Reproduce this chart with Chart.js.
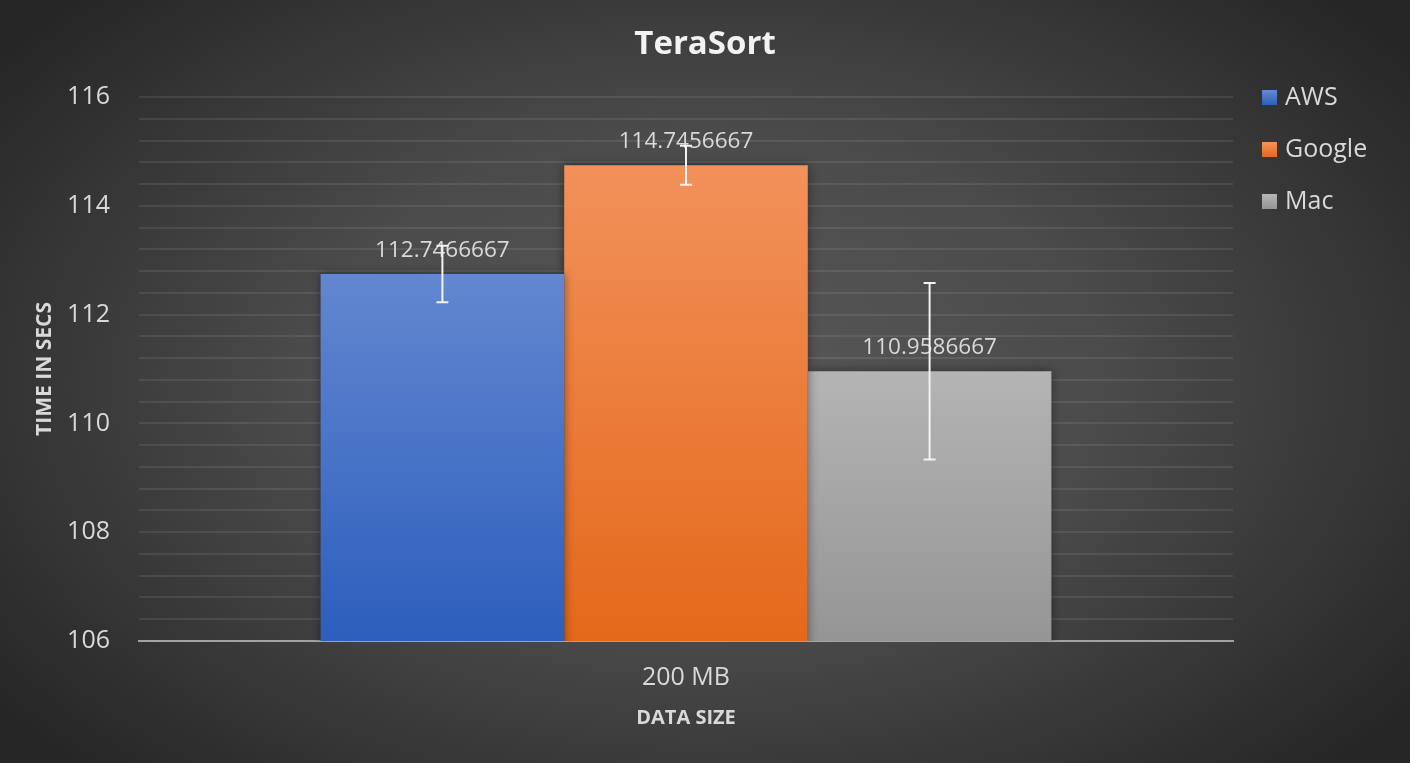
<!DOCTYPE html>
<html><head><meta charset="utf-8">
<script src="https://cdn.jsdelivr.net/npm/chart.js@4.4.1/dist/chart.umd.min.js"></script>
<style>html,body{margin:0;padding:0;background:#262626;overflow:hidden}#wrap{width:1410px;height:763px}</style>
</head><body><div id="wrap"><canvas id="c" width="1410" height="763"></canvas></div>
<script>
const categories = ['200 MB'];
const seriesNames = ['AWS', 'Google', 'Mac'];
const awsValues = [112.7466667];
const googleValues = [114.7456667];
const macValues = [110.9586667];
const awsErrors = [0.52];
const googleErrors = [0.36];
const macErrors = [1.62];
const yTickLabels = [106, 108, 110, 112, 114, 116];
const chartTitle = 'TeraSort';
const yTitle = 'TIME IN SECS';
const xTitle = 'DATA SIZE';

const topColors = ['#6387d0', '#f2915b', '#b4b4b4'];
const bottomColors = ['#2c5ebc', '#e4681a', '#959595'];
const FONT = "'Open Sans', 'Noto Sans', sans-serif";
const TXT = '#d9d9d9';

const valueSets = [awsValues, googleValues, macValues];
const errorSets = [awsErrors, googleErrors, macErrors];

function barGradient(i) {
  return function (ctx) {
    const chart = ctx.chart;
    const area = chart.chartArea;
    if (!area || ctx.type !== 'data') return topColors[i];
    const v = ctx.dataset.data[ctx.dataIndex];
    const yTop = chart.scales.y.getPixelForValue(v);
    const g = chart.ctx.createLinearGradient(0, yTop, 0, area.bottom);
    g.addColorStop(0, topColors[i]);
    g.addColorStop(1, bottomColors[i]);
    return g;
  };
}

const datasets = seriesNames.map((name, i) => ({
  label: name,
  data: valueSets[i],
  errors: errorSets[i],
  backgroundColor: barGradient(i),
  borderWidth: 0,
  barPercentage: 1.0,
  categoryPercentage: 0.668,
  yAxisID: 'y'
}));

const bgPlugin = {
  id: 'bg',
  beforeDraw(chart) {
    const { ctx, width, height } = chart;
    ctx.save();
    ctx.translate(width / 2, height / 2);
    ctx.scale(1, 0.62);
    const g = ctx.createRadialGradient(0, 0, 0, 0, 0, 880);
    g.addColorStop(0, '#585858');
    g.addColorStop(0.45, '#4b4b4b');
    g.addColorStop(1, '#262626');
    ctx.fillStyle = g;
    ctx.fillRect(-width, -height / 0.62, width * 2, height * 2 / 0.62);
    ctx.restore();
  }
};

const marksPlugin = {
  id: 'marks',
  beforeDatasetsDraw(chart) {
    const ctx = chart.ctx;
    ctx.save();
    ctx.shadowColor = 'rgba(0,0,0,0.45)';
    ctx.shadowBlur = 10;
  },
  afterDatasetsDraw(chart) {
    const ctx = chart.ctx;
    ctx.restore();
    const y = chart.scales.y;
    chart.data.datasets.forEach((ds, i) => {
      const meta = chart.getDatasetMeta(i);
      meta.data.forEach((bar, j) => {
        const v = ds.data[j];
        ctx.save();
        ctx.font = '22.5px ' + FONT;
        ctx.fillStyle = TXT;
        ctx.textAlign = 'center';
        ctx.textBaseline = 'alphabetic';
        ctx.fillText(String(v), bar.x, y.getPixelForValue(v) - 17);
        ctx.restore();
      });
    });
    chart.data.datasets.forEach((ds, i) => {
      const meta = chart.getDatasetMeta(i);
      meta.data.forEach((bar, j) => {
        const v = ds.data[j], e = ds.errors[j];
        const y1 = y.getPixelForValue(v + e), y2 = y.getPixelForValue(v - e);
        ctx.save();
        ctx.strokeStyle = '#f2f2f2';
        ctx.lineWidth = 2;
        ctx.beginPath();
        ctx.moveTo(bar.x, y1); ctx.lineTo(bar.x, y2);
        ctx.moveTo(bar.x - 6, y1); ctx.lineTo(bar.x + 6, y1);
        ctx.moveTo(bar.x - 6, y2); ctx.lineTo(bar.x + 6, y2);
        ctx.stroke();
        ctx.restore();
      });
    });
  },
  afterDraw(chart) {
    const ctx = chart.ctx;
    const x0 = chart.chartArea.right + 29;
    chart.data.datasets.forEach((ds, i) => {
      const cy = chart.chartArea.top + 1 + i * 52;
      ctx.save();
      const g = ctx.createLinearGradient(0, cy - 7, 0, cy + 7);
      g.addColorStop(0, topColors[i]);
      g.addColorStop(1, bottomColors[i]);
      ctx.fillStyle = g;
      ctx.fillRect(x0, cy - 8, 15, 15);
      ctx.font = '25px ' + FONT;
      ctx.fillStyle = TXT;
      ctx.textAlign = 'left';
      ctx.textBaseline = 'middle';
      ctx.fillText(ds.label, x0 + 23, cy);
      ctx.restore();
    });
  }
};

new Chart(document.getElementById('c'), {
  type: 'bar',
  data: { labels: categories, datasets: datasets },
  options: {
    responsive: false,
    animation: false,
    devicePixelRatio: 1,
    layout: { padding: 0 },
    plugins: {
      legend: { display: false },
      tooltip: { enabled: false },
      title: {
        display: true,
        text: chartTitle,
        color: '#f2f2f2',
        font: { family: FONT, size: 33, weight: 'bold', lineHeight: 1.2 },
        padding: { top: 24.6, bottom: 32.8 }
      }
    },
    scales: {
      x: {
        grid: { display: false, drawTicks: false },
        border: { display: true, color: '#a3a3a3', width: 2 },
        ticks: { color: TXT, font: { family: FONT, size: 25 }, padding: 22 },
        title: {
          display: true, text: xTitle, color: TXT,
          font: { family: FONT, size: 20, weight: 'bold', lineHeight: 1.2 },
          padding: { top: 0, bottom: 32.5 }
        },
        afterFit(scale) { scale.height = 122; }
      },
      y: {
        position: 'left',
        min: 106, max: 116,
        grid: { color: 'rgba(255,255,255,0.085)', lineWidth: 2, drawTicks: false },
        border: { display: false },
        ticks: {
          stepSize: 0.4,
          autoSkip: false,
          color: TXT,
          font: { family: FONT, size: 25 },
          padding: 29,
          callback(v) {
            const r = Math.round(v);
            return (Math.abs(v - r) < 1e-6 && yTickLabels.includes(r)) ? String(r) : '';
          }
        },
        title: {
          display: true, text: yTitle, color: TXT,
          font: { family: FONT, size: 21, weight: 'bold', lineHeight: 1.2 },
          padding: { top: 32.4, bottom: 0 }
        },
        afterFit(scale) { scale.width = 139; }
      },
      legendSpace: {
        type: 'linear',
        position: 'right',
        display: true,
        min: 106, max: 116,
        grid: { display: false, drawTicks: false },
        border: { display: false },
        ticks: { display: false },
        afterFit(scale) { scale.width = 177; }
      }
    }
  },
  plugins: [bgPlugin, marksPlugin]
});
</script>
</body></html>
